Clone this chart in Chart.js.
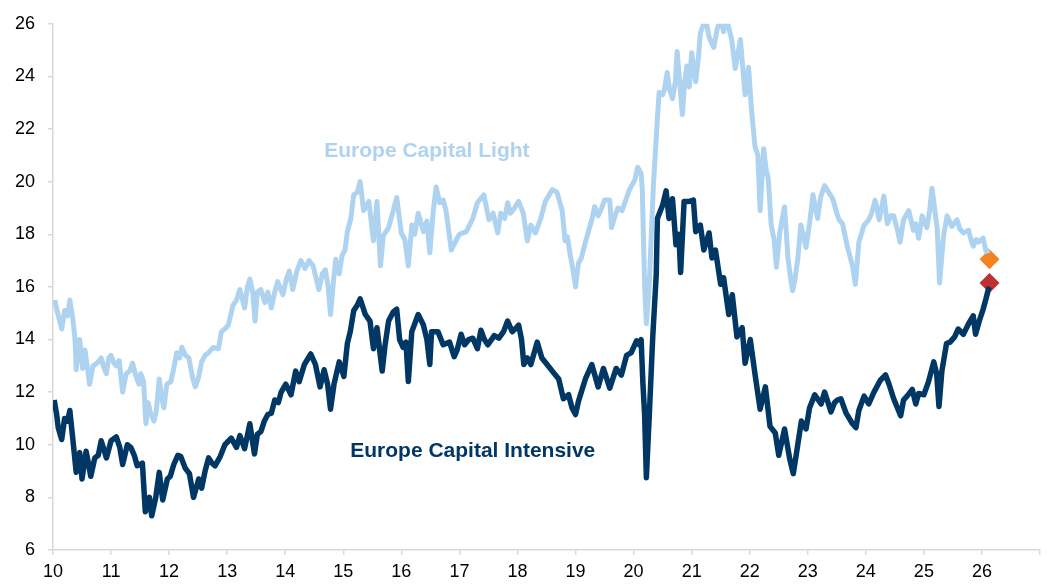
<!DOCTYPE html>
<html>
<head>
<meta charset="utf-8">
<title>Europe Capital Light vs Capital Intensive</title>
<script src="https://cdn.jsdelivr.net/npm/chart.js@4.4.1/dist/chart.umd.min.js"></script>
<style>
  body { margin: 0; background: #ffffff; }
  #wrap { width: 1050px; height: 586px; }
</style>
</head>
<body>
<div id="wrap"><canvas id="chart" width="1050" height="586"></canvas></div>
<script>
// Europe Capital Light (decimal years / index level)
const lightYears = [
  10.03, 10.08, 10.15, 10.2, 10.25, 10.29, 10.34, 10.38, 10.4, 10.44, 10.46, 10.51, 10.55, 10.59, 10.63, 10.69,
  10.76, 10.83, 10.88, 10.92, 10.96, 11.0, 11.05, 11.09, 11.14, 11.2, 11.26, 11.32, 11.37, 11.43, 11.48, 11.51,
  11.56, 11.6, 11.64, 11.68, 11.74, 11.78, 11.83, 11.87, 11.91, 11.96, 12.03, 12.08, 12.13, 12.18, 12.22, 12.28,
  12.34, 12.4, 12.45, 12.5, 12.56, 12.62, 12.68, 12.76, 12.85, 12.9, 12.96, 13.02, 13.1, 13.16, 13.22, 13.3,
  13.35, 13.39, 13.44, 13.48, 13.52, 13.58, 13.65, 13.7, 13.76, 13.82, 13.87, 13.96, 14.02, 14.07, 14.13, 14.2,
  14.27, 14.34, 14.41, 14.48, 14.58, 14.64, 14.69, 14.74, 14.78, 14.83, 14.87, 14.93, 14.98, 15.03, 15.07, 15.13,
  15.18, 15.24, 15.29, 15.35, 15.44, 15.52, 15.58, 15.64, 15.69, 15.78, 15.86, 15.92, 16.0, 16.06, 16.12, 16.18,
  16.23, 16.29, 16.38, 16.44, 16.49, 16.55, 16.6, 16.66, 16.72, 16.77, 16.86, 16.95, 17.0, 17.12, 17.23, 17.31,
  17.42, 17.51, 17.58, 17.66, 17.71, 17.78, 17.83, 17.88, 17.95, 18.02, 18.1, 18.17, 18.23, 18.31, 18.4, 18.48,
  18.6, 18.68, 18.77, 18.82, 18.86, 18.91, 18.96, 19.0, 19.05, 19.1, 19.17, 19.28, 19.33, 19.39, 19.45, 19.5,
  19.59, 19.62, 19.68, 19.73, 19.8, 19.85, 19.93, 20.02, 20.07, 20.13, 20.15, 20.19, 20.22, 20.27, 20.34, 20.41,
  20.44, 20.5, 20.53, 20.58, 20.62, 20.67, 20.72, 20.75, 20.8, 20.84, 20.88, 20.92, 20.96, 21.0, 21.07, 21.12,
  21.15, 21.24, 21.3, 21.38, 21.44, 21.5, 21.55, 21.6, 21.69, 21.75, 21.84, 21.92, 21.98, 22.03, 22.09, 22.14,
  22.18, 22.24, 22.28, 22.32, 22.37, 22.42, 22.46, 22.52, 22.6, 22.66, 22.7, 22.74, 22.78, 22.83, 22.88, 22.93,
  22.97, 23.03, 23.09, 23.13, 23.17, 23.22, 23.29, 23.36, 23.43, 23.5, 23.54, 23.6, 23.68, 23.77, 23.82, 23.88,
  23.97, 24.05, 24.1, 24.16, 24.23, 24.31, 24.37, 24.43, 24.48, 24.54, 24.59, 24.65, 24.74, 24.82, 24.86, 24.91,
  24.97, 25.05, 25.1, 25.14, 25.19, 25.23, 25.27, 25.31, 25.34, 25.4, 25.48, 25.57, 25.62, 25.68, 25.77, 25.81,
  25.85, 25.9, 25.94, 26.02, 26.07, 26.13
];
const lightValues = [
  15.5, 15.0, 14.4, 15.1, 14.9, 15.5, 14.8, 14.0, 12.85, 13.9, 14.0, 12.9, 13.6, 13.0, 12.3, 13.0,
  13.1, 13.3, 12.9, 12.7, 13.3, 13.4, 13.1, 13.0, 13.2, 12.0, 12.7, 12.8, 13.1, 12.6, 12.3, 12.7,
  12.4, 10.8, 11.6, 11.2, 10.9, 11.3, 12.5, 11.8, 11.4, 12.3, 12.4, 12.9, 13.5, 13.3, 13.7, 13.4,
  13.3, 12.6, 12.2, 12.5, 13.15, 13.4, 13.5, 13.7, 13.65, 14.3, 14.4, 14.55, 15.3, 15.5, 15.9, 15.2,
  16.0, 16.3, 15.8, 14.7, 15.8, 15.9, 15.4, 15.8, 15.2, 15.8, 16.2, 15.7, 16.3, 16.6, 15.9, 16.6,
  17.0, 16.7, 17.0, 16.8, 15.9, 16.5, 16.65, 16.0, 14.95, 16.2, 17.05, 16.5, 17.2, 17.4, 18.1, 18.6,
  19.5, 19.6, 20.0, 18.9, 19.25, 17.75, 19.25, 16.8, 17.95, 18.25, 18.9, 19.4, 18.05, 17.8, 16.8, 18.35,
  18.0, 18.8, 18.1, 18.5, 17.3, 18.9, 19.8, 19.2, 19.3, 18.9, 17.4, 17.8, 18.0, 18.1, 18.6, 19.2,
  19.5, 18.55, 18.8, 18.05, 18.8, 18.6, 19.2, 18.8, 19.0, 19.25, 18.8, 17.75, 18.35, 18.05, 18.6, 19.25,
  19.7, 19.6, 18.9, 17.75, 17.9, 17.2, 16.6, 16.0, 16.9, 17.1, 17.7, 18.55, 19.05, 18.7, 19.0, 19.3,
  19.3, 18.25, 18.7, 19.0, 18.9, 19.2, 19.7, 20.05, 20.55, 20.3, 19.7, 16.05, 14.6, 16.1, 19.8, 22.4,
  23.4, 23.3, 23.5, 24.15, 23.5, 23.15, 23.8, 24.95, 23.6, 22.55, 23.8, 24.4, 23.6, 24.9, 23.8, 24.8,
  25.65, 26.2, 25.5, 25.1, 25.8, 26.2, 25.7, 26.2, 25.4, 24.3, 25.4, 23.3, 24.35, 22.75, 21.35, 21.0,
  18.9, 21.25, 20.5, 20.1, 18.35, 17.8, 16.75, 18.1, 19.05, 17.1, 16.4, 15.85, 16.3, 17.1, 18.35, 17.9,
  17.5, 18.4, 19.5, 19.0, 18.6, 19.4, 19.85, 19.6, 19.35, 18.8, 18.55, 18.4, 17.55, 16.8, 16.1, 17.7,
  18.35, 18.55, 18.8, 19.3, 18.55, 19.45, 18.4, 18.7, 18.7, 18.2, 17.7, 18.55, 18.9, 18.15, 18.4, 17.85,
  18.7, 18.25, 18.9, 19.75, 18.9, 18.2, 16.15, 17.2, 17.95, 18.7, 18.3, 18.55, 18.2, 18.05, 18.15, 17.8,
  17.55, 17.8, 17.7, 17.85, 17.35, 17.4
];

// Europe Capital Intensive
const intYears = [
  10.02, 10.06, 10.09, 10.15, 10.2, 10.25, 10.29, 10.34, 10.4, 10.46, 10.5, 10.57, 10.61, 10.65, 10.72, 10.78,
  10.83, 10.88, 10.92, 11.0, 11.09, 11.15, 11.2, 11.28, 11.34, 11.4, 11.45, 11.54, 11.59, 11.66, 11.7, 11.77,
  11.83, 11.89, 11.97, 12.02, 12.08, 12.15, 12.2, 12.28, 12.35, 12.42, 12.51, 12.56, 12.62, 12.68, 12.74, 12.79,
  12.88, 12.96, 13.07, 13.16, 13.22, 13.3, 13.39, 13.47, 13.52, 13.58, 13.64, 13.7, 13.76, 13.82, 13.88, 13.93,
  14.01, 14.1, 14.18, 14.24, 14.33, 14.44, 14.52, 14.6, 14.67, 14.73, 14.78, 14.84, 14.93, 15.01, 15.07, 15.12,
  15.18, 15.24, 15.29, 15.38, 15.46, 15.52, 15.58, 15.67, 15.72, 15.78, 15.86, 15.92, 15.97, 16.03, 16.08, 16.12,
  16.18, 16.29, 16.38, 16.44, 16.49, 16.52, 16.63, 16.72, 16.83, 16.91, 16.96, 17.03, 17.09, 17.16, 17.23, 17.31,
  17.37, 17.43, 17.49, 17.6, 17.68, 17.76, 17.83, 17.91, 17.96, 18.02, 18.07, 18.11, 18.17, 18.23, 18.34, 18.42,
  18.51, 18.6, 18.71, 18.79, 18.88, 18.94, 19.0, 19.05, 19.17, 19.28, 19.39, 19.48, 19.59, 19.7, 19.79, 19.88,
  19.96, 20.05, 20.1, 20.13, 20.16, 20.19, 20.22, 20.27, 20.33, 20.39, 20.41, 20.5, 20.56, 20.61, 20.67, 20.73,
  20.78, 20.81, 20.87, 20.96, 21.03, 21.07, 21.15, 21.21, 21.3, 21.35, 21.41, 21.5, 21.55, 21.64, 21.7, 21.78,
  21.87, 21.92, 22.01, 22.09, 22.18, 22.27, 22.35, 22.44, 22.5, 22.6, 22.69, 22.75, 22.8, 22.89, 22.97, 23.03,
  23.12, 23.23, 23.29, 23.35, 23.4, 23.46, 23.51, 23.57, 23.66, 23.77, 23.83, 23.88, 23.97, 24.05, 24.14, 24.25,
  24.34, 24.4, 24.48, 24.6, 24.65, 24.71, 24.8, 24.86, 24.91, 25.0, 25.08, 25.17, 25.22, 25.26, 25.31, 25.39,
  25.45, 25.53, 25.59, 25.68, 25.77, 25.85, 25.89, 25.96, 26.02, 26.07, 26.11, 26.13
];
const intValues = [
  11.7, 11.2, 10.65, 10.2, 11.0, 10.9, 11.3, 10.25, 8.95, 9.7, 8.7, 9.75, 9.3, 8.8, 9.5, 9.6,
  10.15, 9.8, 9.5, 10.15, 10.3, 9.9, 9.25, 10.0, 9.9, 9.6, 9.2, 9.3, 7.45, 8.0, 7.3, 8.0,
  8.95, 7.9, 8.7, 8.8, 9.25, 9.6, 9.55, 9.1, 8.9, 8.0, 8.7, 8.35, 9.0, 9.5, 9.3, 9.2,
  9.55, 10.0, 10.25, 9.9, 10.35, 9.85, 10.8, 9.65, 10.4, 10.5, 10.9, 11.15, 11.2, 11.7, 11.6, 12.0,
  12.3, 11.9, 12.8, 12.4, 13.05, 13.45, 13.05, 12.2, 12.85, 12.3, 11.35, 12.3, 13.15, 12.6, 13.85, 14.3,
  15.1, 15.3, 15.55, 14.95, 14.7, 13.65, 14.45, 12.8, 13.8, 14.7, 15.05, 15.15, 14.0, 13.7, 13.9, 12.4,
  14.3, 14.95, 14.55, 14.0, 13.05, 14.3, 14.3, 13.8, 13.9, 13.35, 13.6, 14.2, 13.8, 14.0, 14.05, 13.65,
  14.35, 14.0, 13.8, 14.15, 14.05, 14.3, 14.7, 14.3, 14.4, 14.55, 14.0, 13.05, 13.3, 13.05, 13.9, 13.3,
  13.05, 12.8, 12.5, 11.75, 11.9, 11.4, 11.15, 11.65, 12.5, 13.05, 12.2, 12.9, 12.15, 12.9, 12.65, 13.4,
  13.5, 13.95, 13.8, 14.0, 12.35, 11.15, 8.75, 11.1, 14.1, 16.45, 18.6, 19.1, 19.65, 18.6, 19.35, 17.6,
  18.0, 16.55, 19.25, 19.25, 19.3, 18.1, 18.35, 17.4, 18.05, 17.1, 17.4, 16.1, 16.35, 14.95, 15.7, 14.1,
  14.45, 13.1, 14.0, 12.7, 11.35, 12.2, 10.7, 10.45, 9.6, 10.6, 9.45, 8.9, 9.6, 10.9, 10.6, 11.4,
  11.9, 11.55, 12.0, 11.6, 11.25, 11.6, 11.7, 11.75, 11.2, 10.8, 10.65, 11.3, 11.85, 11.55, 12.0, 12.45,
  12.65, 12.3, 11.75, 11.1, 11.7, 11.85, 12.1, 11.55, 11.95, 11.9, 12.4, 13.15, 12.7, 11.45, 12.8, 13.85,
  13.9, 14.1, 14.4, 14.2, 14.6, 14.9, 14.2, 14.75, 15.15, 15.55, 15.9, 16.0
];

// latest markers (diamonds)
const markerYear = 26.13;
const lightMarker = 17.05;
const intMarker = 16.15;

// axis ticks
const xTicks = [10, 11, 12, 13, 14, 15, 16, 17, 18, 19, 20, 21, 22, 23, 24, 25, 26];
const yTicks = [6, 8, 10, 12, 14, 16, 18, 20, 22, 24, 26];

// series labels, anchored in data units
const labels = [
  { text: 'Europe Capital Light', x: 16.44, y: 21.14, color: '#aed3f0' },
  { text: 'Europe Capital Intensive', x: 17.23, y: 9.77, color: '#003764' }
];

const LIGHT = '#aed3f0';
const NAVY = '#003764';
const AXIS = '#d9d9d9';
const FONT = "'Liberation Sans', Arial, sans-serif";

function toPoints(xs, ys) {
  return xs.map((x, i) => ({ x: x, y: ys[i] }));
}

// draws the two series names on the plot
const seriesLabels = {
  id: 'seriesLabels',
  afterDatasetsDraw(chart) {
    const ctx = chart.ctx;
    const xs = chart.scales.x;
    const ys = chart.scales.y;
    ctx.save();
    ctx.font = 'bold 21px ' + FONT;
    ctx.textAlign = 'center';
    ctx.textBaseline = 'middle';
    labels.forEach(l => {
      ctx.fillStyle = l.color;
      ctx.fillText(l.text, xs.getPixelForValue(l.x), ys.getPixelForValue(l.y));
    });
    ctx.restore();
  }
};

const ctx = document.getElementById('chart').getContext('2d');
new Chart(ctx, {
  type: 'line',
  data: {
    datasets: [
      {
        label: 'Europe Capital Light',
        data: toPoints(lightYears, lightValues),
        borderColor: LIGHT,
        borderWidth: 5,
        pointRadius: 0,
        tension: 0,
        borderJoinStyle: 'round',
        clip: 0
      },
      {
        label: 'Europe Capital Intensive',
        data: toPoints(intYears, intValues),
        borderColor: NAVY,
        borderWidth: 5.5,
        pointRadius: 0,
        tension: 0,
        borderJoinStyle: 'round'
      },
      {
        label: 'Light latest',
        data: [{ x: markerYear, y: lightMarker }],
        showLine: false,
        pointStyle: 'rectRot',
        pointRadius: 10,
        pointBackgroundColor: '#f58220',
        pointBorderWidth: 0,
        clip: false
      },
      {
        label: 'Intensive latest',
        data: [{ x: markerYear, y: intMarker }],
        showLine: false,
        pointStyle: 'rectRot',
        pointRadius: 10,
        pointBackgroundColor: '#c0302f',
        pointBorderWidth: 0,
        clip: false
      }
    ]
  },
  options: {
    responsive: false,
    animation: false,
    layout: { padding: { top: 19, right: 1, left: 0, bottom: 0 } },
    plugins: {
      legend: { display: false },
      tooltip: { enabled: false }
    },
    scales: {
      x: {
        type: 'linear',
        min: 10,
        max: 27,
        afterFit: s => { s.height = 36; },
        afterBuildTicks: s => {
          s.ticks = xTicks.concat([27]).map(v => ({ value: v }));
        },
        ticks: {
          color: '#000',
          font: { family: FONT, size: 18 },
          padding: 6,
          maxRotation: 0,
          autoSkip: false,
          callback: v => (xTicks.includes(v) ? String(v) : '')
        },
        grid: { drawOnChartArea: false, drawTicks: true, tickLength: 5, color: AXIS, lineWidth: 1.5 },
        border: { color: AXIS, width: 1.5 }
      },
      y: {
        min: 6,
        max: 26,
        afterFit: s => { s.width = 53; },
        afterBuildTicks: s => {
          s.ticks = yTicks.map(v => ({ value: v }));
        },
        ticks: {
          color: '#000',
          font: { family: FONT, size: 18 },
          padding: 13
        },
        grid: { drawOnChartArea: false, drawTicks: true, tickLength: 5, color: AXIS, lineWidth: 1.5 },
        border: { color: AXIS, width: 1.5 }
      }
    }
  },
  plugins: [seriesLabels]
});
</script>
</body>
</html>
